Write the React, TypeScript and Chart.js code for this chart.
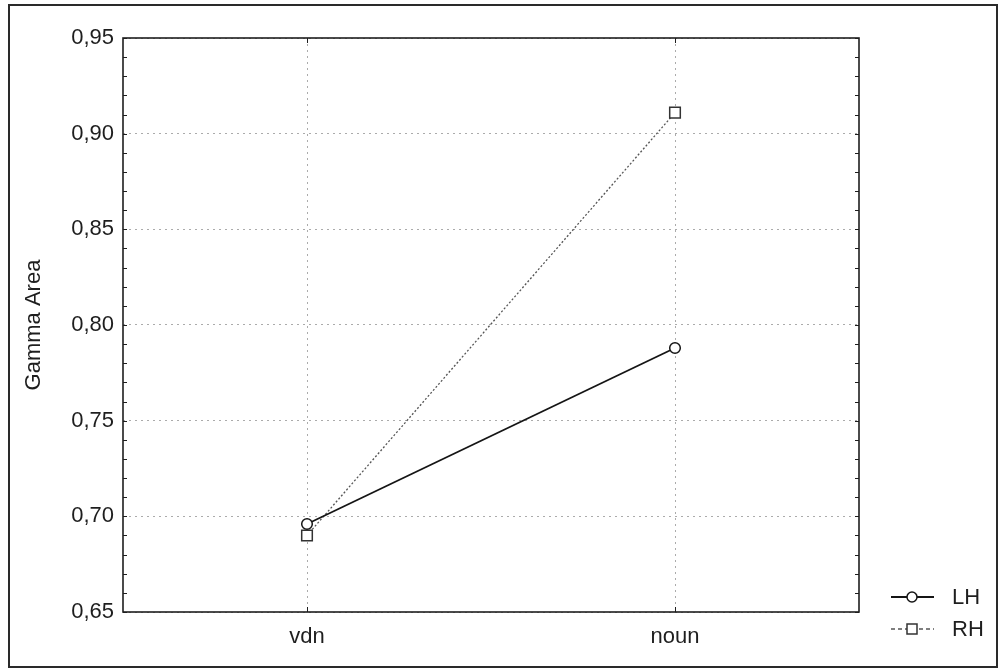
import { useEffect, useRef } from "react";
import { Chart, registerables } from "chart.js";

Chart.register(...registerables);

// Category axis and series values
const categories = ["vdn", "noun"];
const seriesNames = ["LH", "RH"];
const lhValues = [0.696, 0.788];
const rhValues = [0.69, 0.911];

// Value axis
const yTicks = [0.65, 0.7, 0.75, 0.8, 0.85, 0.9, 0.95];
const yMin = 0.65;
const yMax = 0.95;
const minorStep = 0.01;
const yTitle = "Gamma Area";

const FONT = '"Liberation Sans", Arial, Helvetica, sans-serif';
const FONT_SIZE = 22;
const INK = "#1e1e1e";

const fmt = (v: number) => v.toFixed(2).replace(".", ",");

const framePlugin = {
  id: "frameAndTicks",
  beforeDatasetsDraw(chart: any) {
    const { ctx, chartArea: a, scales } = chart;
    ctx.save();
    // minor ticks on left and right axes
    ctx.strokeStyle = INK;
    ctx.lineWidth = 1;
    const n = Math.round((yMax - yMin) / minorStep);
    for (let i = 0; i <= n; i++) {
      const py = Math.round(scales.y.getPixelForValue(yMin + i * minorStep)) + 0.5;
      ctx.beginPath();
      ctx.moveTo(a.left, py);
      ctx.lineTo(a.left + 4, py);
      ctx.moveTo(a.right - 4, py);
      ctx.lineTo(a.right, py);
      ctx.stroke();
    }
    // category ticks on bottom and top axes
    categories.forEach((_, i) => {
      const px = Math.round(scales.x.getPixelForValue(i)) + 0.5;
      ctx.beginPath();
      ctx.moveTo(px, a.bottom);
      ctx.lineTo(px, a.bottom - 5);
      ctx.moveTo(px, a.top);
      ctx.lineTo(px, a.top + 5);
      ctx.stroke();
    });
    // plot frame
    ctx.lineWidth = 1.6;
    ctx.strokeRect(a.left, a.top, a.right - a.left, a.bottom - a.top);
    ctx.restore();
  },
  afterDraw(chart: any) {
    const { ctx } = chart;
    ctx.save();
    // outer border
    ctx.strokeStyle = "#2a2a2a";
    ctx.lineWidth = 2;
    ctx.strokeRect(9, 5, 988, 662);

    // legend
    const rows = [597, 629];
    chart.data.datasets.forEach((ds: any, i: number) => {
      const y = rows[i];
      const x0 = 891;
      const x1 = 934;
      const xm = 912;
      ctx.strokeStyle = ds.borderColor;
      ctx.lineWidth = ds.borderWidth;
      ctx.setLineDash(i === 0 ? [] : [4, 3]);
      ctx.beginPath();
      ctx.moveTo(x0, y);
      ctx.lineTo(x1, y);
      ctx.stroke();
      ctx.setLineDash([]);
      ctx.fillStyle = "#fff";
      ctx.strokeStyle = ds.pointBorderColor;
      ctx.lineWidth = ds.pointBorderWidth;
      ctx.beginPath();
      if (ds.pointStyle === "rect") {
        ctx.rect(xm - 5, y - 5, 10, 10);
      } else {
        ctx.arc(xm, y, 5, 0, Math.PI * 2);
      }
      ctx.fill();
      ctx.stroke();
      ctx.fillStyle = INK;
      ctx.font = `${FONT_SIZE}px ${FONT}`;
      ctx.textAlign = "left";
      ctx.textBaseline = "middle";
      ctx.fillText(ds.label, 952, y + 1);
    });
    ctx.restore();
  },
};

const bgPlugin = {
  id: "whiteBg",
  beforeDraw(chart: any) {
    const { ctx, width, height } = chart;
    ctx.save();
    ctx.fillStyle = "#fff";
    ctx.fillRect(0, 0, width, height);
    ctx.restore();
  },
};

export default function App() {
  const ref = useRef<HTMLCanvasElement | null>(null);

  useEffect(() => {
    if (!ref.current) return;
    const chart = new Chart(ref.current, {
      type: "line",
      data: {
        labels: categories,
        datasets: [
          {
            label: seriesNames[0],
            data: lhValues,
            borderColor: "#151515",
            borderWidth: 1.8,
            pointStyle: "circle",
            pointRadius: 5.3,
            pointBackgroundColor: "#fff",
            pointBorderColor: "#151515",
            pointBorderWidth: 1.5,
            tension: 0,
          },
          {
            label: seriesNames[1],
            data: rhValues,
            borderColor: "#555",
            borderWidth: 1.3,
            borderDash: [2, 2],
            pointStyle: "rect",
            pointRadius: 7.5,
            pointBackgroundColor: "#fff",
            pointBorderColor: "#333",
            pointBorderWidth: 1.5,
            tension: 0,
          },
        ],
      },
      options: {
        responsive: false,
        animation: false,
        events: [],
        layout: { padding: { left: 0, top: 38, right: 141, bottom: 0 } },
        plugins: {
          legend: { display: false },
          tooltip: { enabled: false },
        },
        scales: {
          x: {
            type: "category",
            offset: true,
            grid: {
              display: true,
              drawTicks: false,
              color: "#ababab",
              lineWidth: 1,
              offset: false,
            },
            border: { display: false, dash: [2, 4] },
            ticks: {
              padding: 12,
              color: INK,
              font: { family: FONT, size: FONT_SIZE },
            },
            afterFit(scale: any) {
              scale.height = 58;
            },
          },
          y: {
            min: yMin,
            max: yMax,
            grid: {
              display: true,
              drawTicks: false,
              color: "#ababab",
              lineWidth: 1,
            },
            border: { display: false, dash: [2, 4] },
            afterBuildTicks(scale: any) {
              scale.ticks = yTicks.map((v) => ({ value: v }));
            },
            ticks: {
              padding: 9,
              color: INK,
              font: { family: FONT, size: FONT_SIZE },
              callback: (v: any) => fmt(Number(v)),
            },
            title: {
              display: true,
              text: yTitle,
              color: INK,
              font: { family: FONT, size: FONT_SIZE },
              padding: { top: 21, bottom: 0 },
            },
            afterFit(scale: any) {
              scale.width = 123;
            },
          },
        },
      },
      plugins: [bgPlugin, framePlugin],
    });
    return () => chart.destroy();
  }, []);

  return (
    <div style={{ position: "fixed", left: 0, top: 0, width: 1000, height: 670, background: "#fff" }}>
      <canvas ref={ref} width={1000} height={670} style={{ display: "block" }} />
    </div>
  );
}
